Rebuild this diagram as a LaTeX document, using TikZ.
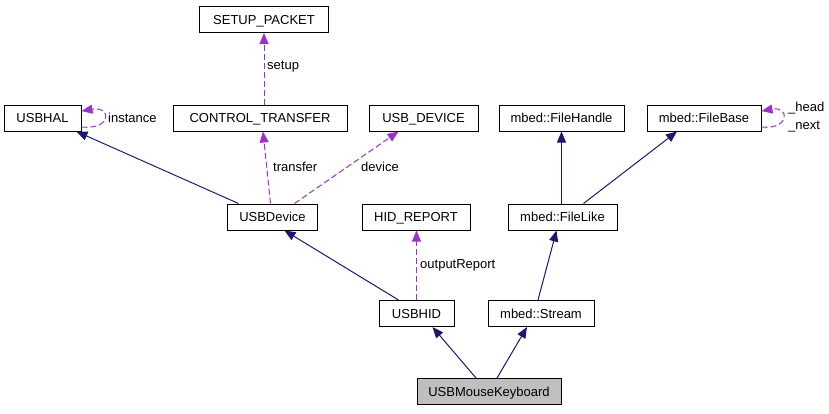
\documentclass[tikz,border=0pt]{standalone}
\usepackage{fontspec}
\setmainfont{Liberation Sans}
\usetikzlibrary{arrows.meta}
\definecolor{navyedge}{HTML}{191970}
\definecolor{purpedge}{HTML}{9A32CD}
\definecolor{graybox}{HTML}{BFBFBF}
\tikzset{
  cls/.style={draw=black, fill=white, line width=1pt, inner sep=0pt, minimum height=26pt, text depth=0pt, font=\fontsize{13}{14}\selectfont},
  inh/.style={draw=navyedge, line width=1pt, -{Triangle[length=11pt,width=9pt]}},
  use/.style={draw=purpedge, line width=1pt, dash pattern=on 6pt off 3pt, -{Triangle[length=11pt,width=9pt]}},
  lbl/.style={font=\fontsize{13}{14}\selectfont, inner sep=0pt, anchor=west}
}
\begin{document}
\begin{tikzpicture}[x=1pt,y=-1pt]
\useasboundingbox (0,0) rectangle (829,413);
\node[cls, minimum width=129pt] (setup) at (264,19.5) {SETUP\_PACKET};
\node[cls, minimum width=77pt] (usbhal) at (42.5,118) {USBHAL};
\node[cls, minimum width=174pt] (ctrl) at (260,118) {CONTROL\_TRANSFER};
\node[cls, minimum width=109pt] (usbdev) at (423.5,118) {USB\_DEVICE};
\node[cls, minimum width=125pt] (fhandle) at (561.5,118) {mbed::FileHandle};
\node[cls, minimum width=114pt] (fbase) at (704,118) {mbed::FileBase};
\node[cls, minimum width=90pt] (device) at (272.5,217) {USBDevice};
\node[cls, minimum width=108pt] (hidrep) at (416,217) {HID\_REPORT};
\node[cls, minimum width=109pt] (flike) at (562.5,217) {mbed::FileLike};
\node[cls, minimum width=75pt] (usbhid) at (416.5,313.5) {USBHID};
\node[cls, minimum width=106pt] (stream) at (541,313.5) {mbed::Stream};
\node[cls, minimum width=144pt, fill=graybox] (mk) at (489,391.5) {USBMouseKeyboard};

% self loops
\draw[use] (usbhal.east |- 0,127) .. controls (112,130) and (112,106) .. (usbhal.east |- 0,111);
\node[lbl] (linst) at (108,118) {instance};
\draw[use] (fbase.east |- 0,127) .. controls (790,130) and (790,106) .. (fbase.east |- 0,111);
\node[lbl] (lhead) at (788,108) {\_head};
\node[lbl] (lnext) at (788,127) {\_next};

% uses
\draw[use] (ctrl.north -| setup.south) -- (setup.south);
\node[lbl] (lsetup) at (267,67) {setup};
\draw[use] ([xshift=-2pt]device.north) -- ([xshift=3pt]ctrl.south);
\node[lbl] (ltransfer) at (273,167) {transfer};
\draw[use] ([xshift=22pt]device.north) -- ([xshift=-25pt]usbdev.south);
\node[lbl] (ldevice) at (361,167) {device};
\draw[use] (usbhid.north) -- (usbhid.north |- hidrep.south);
\node[lbl] (loutrep) at (420,265) {outputReport};

% inheritance
\draw[inh] ([xshift=-34pt]device.north) -- ([xshift=34pt]usbhal.south);
\draw[inh] ([xshift=-18pt]usbhid.north) -- ([xshift=12pt]device.south);
\draw[inh] (flike.north -| fhandle.south) -- (fhandle.south);
\draw[inh] ([xshift=21pt]flike.north) -- ([xshift=-27pt]fbase.south);
\draw[inh] ([xshift=-3pt]stream.north) -- ([xshift=-6pt]flike.south);
\draw[inh] ([xshift=-13pt]mk.north) -- ([xshift=16pt]usbhid.south);
\draw[inh] ([xshift=8pt]mk.north) -- ([xshift=-14pt]stream.south);
\end{tikzpicture}
\end{document}
